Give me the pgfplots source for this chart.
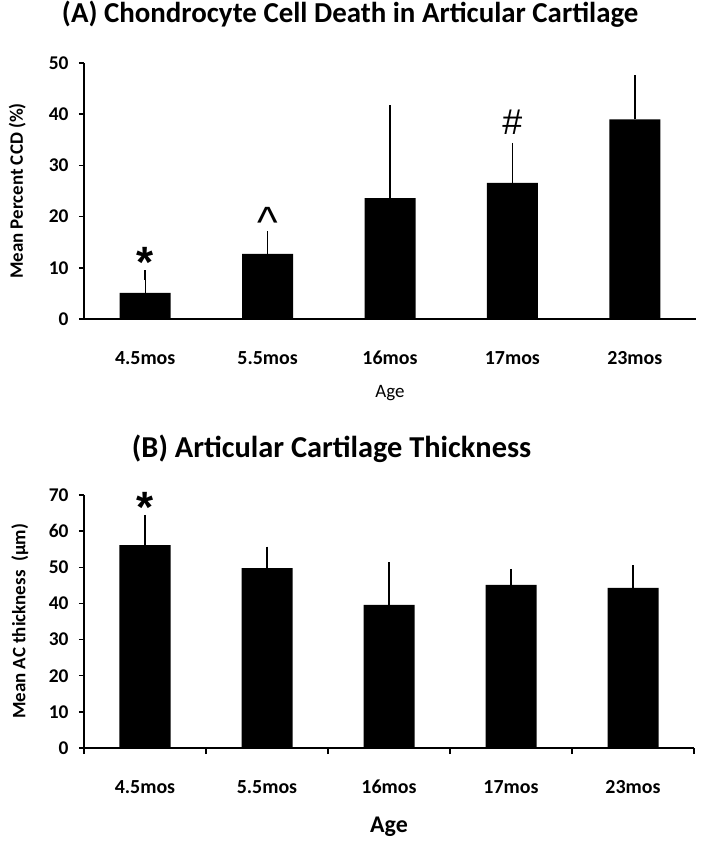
\documentclass[border=0pt]{standalone}
\usepackage{pgfplots}
\pgfplotsset{compat=1.18}
\usepackage{graphicx}
\usepackage{fontspec}
\setmainfont{Carlito}
\newfontfamily\symfont{Liberation Sans}
\begin{document}
\begin{tikzpicture}
\useasboundingbox (0,0) rectangle (705bp,843bp);
\pgfplotsset{
  mybar/.style={
    scale only axis,
    axis lines*=left,
    axis line style={line width=1.8bp, black},
    ymin=0,
    xmin=-0.5, xmax=4.5,
    xtick={0,1,2,3,4},
    xticklabels={4.5mos,5.5mos,16mos,17mos,23mos},
    tick align=outside,
    major tick length=5bp,
    tick style={line width=1.5bp, black},
    /pgf/number format/assume math mode=true,
    yticklabel style={font=\fontsize{19.5}{19.5}\selectfont\bfseries, xshift=-7bp},
    ybar, bar width=51bp,
    clip=false,
  },
  errstyle/.style={
    fill=black, draw=none,
    error bars/.cd,
      y dir=plus, y explicit,
      error bar style={line width=1.4bp, black},
      error mark options={line width=1.6bp, black, mark size=5bp},
  },
}
% Panel A
\begin{axis}[mybar,
  at={(84bp,524bp)}, anchor=south west,
  width=612bp, height=256bp,
  ymax=50, ytick={0,10,...,50},
  x tick style={draw=none},
  xticklabel style={anchor=base, yshift=-41bp, font=\fontsize{20}{20}\selectfont\bfseries},
  title={(A) Chondrocyte Cell Death in Articular Cartilage},
  title style={at={(axis description cs:0.435,1.168)}, anchor=center, font=\fontsize{29}{29}\selectfont\bfseries},
  ylabel={Mean Percent CCD (\%)},
  ylabel style={at={(axis description cs:-0.109,0.5)}, anchor=center, font=\fontsize{19}{19}\selectfont\bfseries},
  xlabel={Age},
  xlabel style={at={(axis description cs:0.5,-0.289)}, anchor=center, font=\fontsize{19}{19}\selectfont},
]
\addplot[errstyle] table[x=x, y=y, y error=e] {
x y e
0 5.1 3.4
1 12.7 3.5
2 23.6 17.2
3 26.6 6.8
4 39.0 7.6
};
\node[font=\symfont\fontsize{44}{44}\selectfont\bfseries] at (axis cs:0,11.0) {*};
\node[font=\symfont\fontsize{44}{44}\selectfont] at (axis cs:1,18.8) {\textasciicircum};
\node[font=\symfont\fontsize{36}{36}\selectfont] at (axis cs:3,38.5) {\#};
\end{axis}
% Panel B
\begin{axis}[mybar,
  at={(84bp,95bp)}, anchor=south west,
  width=610bp, height=253bp,
  ymax=70, ytick={0,10,...,70},
  x tick style={draw=none},
  minor xtick={-0.5,0.5,...,4.5},
  minor tick length=6bp,
  minor x tick style={line width=1.5bp, black, draw=black},
  xticklabel style={anchor=base, yshift=-40bp, font=\fontsize{20}{20}\selectfont\bfseries},
  title={(B) Articular Cartilage Thickness},
  title style={at={(axis description cs:0.406,1.158)}, anchor=center, font=\fontsize{30.5}{30.5}\selectfont\bfseries},
  ylabel={Mean AC thickness\ \ (µm)},
  ylabel style={at={(axis description cs:-0.105,0.5)}, anchor=center, font=\fontsize{19}{19}\selectfont\bfseries},
  xlabel={Age},
  xlabel style={at={(axis description cs:0.5,-0.312)}, anchor=center, font=\fontsize{24}{24}\selectfont\bfseries},
]
\addplot[errstyle] table[x=x, y=y, y error=e] {
x y e
0 56.1 7.0
1 49.8 4.5
2 39.6 10.4
3 45.1 3.1
4 44.3 4.9
};
\node[font=\symfont\fontsize{44}{44}\selectfont\bfseries] at (axis cs:0,66.5) {*};
\end{axis}
\end{tikzpicture}
\end{document}
